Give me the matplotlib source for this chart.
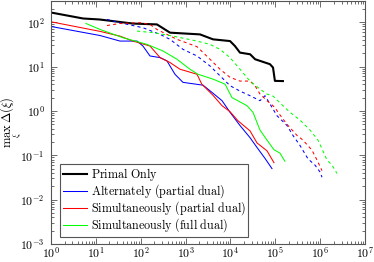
import numpy as np
import matplotlib
matplotlib.use("Agg")
import matplotlib.pyplot as plt
from matplotlib.ticker import FuncFormatter, LogLocator

plt.rcParams['mathtext.fontset'] = 'cm'
plt.rcParams['font.family'] = 'serif'
plt.rcParams['font.serif'] = ['DejaVu Serif']

# Primal only
black_x = [1, 5.2, 12, 67, 230, 450, 2100, 4100, 9800, 12600, 16300, 27500, 35500, 76000, 89000, 98000, 148000]
black_y = [165, 121, 115, 93, 89, 58, 53, 41, 37.5, 29, 20.6, 18.9, 14.6, 11.3, 9.5, 4.75, 4.7]

# Alternately (partial dual)
alt_x = [1, 12.4, 34.5, 83, 112, 161, 270, 385, 580, 875, 2450, 3900, 6500, 9800, 16300, 27300, 39100, 59000, 84400]
alt_y = [80, 50, 37.5, 37.5, 29, 17.3, 15.9, 13.4, 6.7, 4.4, 3.8, 2.6, 1.7, 0.93, 0.47, 0.25, 0.15, 0.085, 0.05]
alt_dual_x = [17.7, 34.5, 112, 270, 450, 875, 1800, 3500, 5850, 9800, 16300, 27300, 45600, 59000, 76200,
              109000, 182000, 248000, 356000, 536000, 768000, 993000, 1.1e6]
alt_dual_y = [115, 97, 75, 53, 41, 24.4, 17.3, 10.3, 6.2, 3.7, 2.8, 2.2, 1.7, 2.2, 1.43,
              0.78, 0.47, 0.28, 0.166, 0.083, 0.06, 0.042, 0.032]

# Simultaneously (partial dual)
sim_x = [1, 12.4, 34.5, 67, 161, 270, 450, 750, 1800, 2300, 4100, 6500, 9800, 14700, 27300, 39100, 65300, 93500]
sim_y = [102, 62, 48.5, 37.5, 29, 15.9, 12.3, 8.7, 6.7, 4.0, 2.24, 1.31, 0.96, 0.6, 0.355, 0.19, 0.126, 0.068]
sim_dual_x = [17.7, 34.5, 96, 161, 230, 385, 644, 1800, 3500, 5850, 9800, 16300, 27300, 35300, 45600, 65300,
              98000, 115000, 148000, 192000, 305000, 414000, 658000, 851000, 1.1e6]
sim_dual_y = [84, 93.5, 97, 89, 68.5, 53, 41, 28, 14.6, 8.7, 5.7, 4.7, 4.7, 3.7, 2.4, 1.7,
              1.2, 0.93, 0.66, 0.47, 0.28, 0.22, 0.13, 0.078, 0.045]

# Simultaneously (full dual)
full_x = [6, 12.4, 40, 138, 314, 644, 1250, 1890, 4100, 7600, 10800, 23400, 31800, 45600, 65300, 93500, 127000, 164000]
full_y = [93.5, 68.5, 44.7, 31.6, 22.4, 14.6, 8.7, 6.7, 5.2, 4.0, 2.0, 1.31, 0.93, 0.37, 0.22, 0.133, 0.112, 0.073]
full_dual_x = [83, 188, 525, 1800, 3500, 5850, 9800, 16300, 27300, 45600, 65300, 89000, 148000, 213000,
               356000, 594000, 895000, 1.1e6, 1.42e6, 1.84e6, 2.37e6]
full_dual_y = [63, 58, 48.5, 37.5, 31.6, 24.4, 15.9, 8.7, 4.7, 3.1, 2.4, 2.16, 1.31, 0.93,
               0.62, 0.37, 0.22, 0.14, 0.078, 0.06, 0.039]

labels = ['Primal Only', 'Alternately (partial dual)',
          'Simultaneously (partial dual)', 'Simultaneously (full dual)']


def tex(s):
    return r'$\mathrm{%s}$' % s.replace(' ', r'\ ')


fig = plt.figure(figsize=(3.74, 2.62), dpi=100)
ax = fig.add_axes([51 / 374, 1 - 244 / 262, 314 / 374, 243 / 262])

lw = 0.75
green = '#00ff00'
dash = (0, (3, 3))
ax.plot(black_x, black_y, color='black', lw=1.5, label=tex(labels[0]))
ax.plot(alt_x, alt_y, color='blue', lw=lw, label=tex(labels[1]))
ax.plot(sim_x, sim_y, color='red', lw=lw, label=tex(labels[2]))
ax.plot(full_x, full_y, color=green, lw=lw, label=tex(labels[3]))
ax.plot(alt_dual_x, alt_dual_y, color='blue', lw=lw, ls=dash)
ax.plot(sim_dual_x, sim_dual_y, color='red', lw=lw, ls=dash)
ax.plot(full_dual_x, full_dual_y, color=green, lw=lw, ls=dash)

ax.set_xscale('log')
ax.set_yscale('log')
ax.set_xlim(1, 1e7)
ax.set_ylim(1e-3, 3e2)

fmt = FuncFormatter(lambda v, p: r'$10^{%d}$' % int(round(np.log10(v))))
ax.xaxis.set_major_locator(LogLocator(base=10, numticks=20))
ax.yaxis.set_major_locator(LogLocator(base=10, numticks=20))
ax.xaxis.set_minor_locator(LogLocator(base=10, subs=np.arange(2, 10), numticks=20))
ax.yaxis.set_minor_locator(LogLocator(base=10, subs=np.arange(2, 10), numticks=20))
ax.xaxis.set_major_formatter(fmt)
ax.yaxis.set_major_formatter(fmt)
ax.xaxis.set_minor_formatter(FuncFormatter(lambda v, p: ''))
ax.yaxis.set_minor_formatter(FuncFormatter(lambda v, p: ''))
ax.tick_params(which='both', direction='in', top=True, right=True, colors='#555555',
               labelcolor='black', labelsize=8.5, width=0.6)
ax.tick_params(which='major', length=4)
ax.tick_params(axis='x', which='major', pad=1.5)
ax.tick_params(axis='y', which='major', pad=4.5)
ax.tick_params(which='minor', length=2)
for s in ax.spines.values():
    s.set_color('#555555')
    s.set_linewidth(0.8)

ax.set_ylabel(r'$\max_{\xi}\,\Delta(\xi)$', fontsize=9)
ax.yaxis.set_label_coords(-0.085, 0.5)

leg = ax.legend(loc='lower left', bbox_to_anchor=(0.03, 0.03), borderaxespad=0,
                prop={'size': 8.7}, fancybox=False, framealpha=1, edgecolor='#555555',
                handlelength=2.0, handletextpad=0.3, labelspacing=-0.06, borderpad=0.2)
leg.get_frame().set_linewidth(0.8)

fig.savefig('out.png', dpi=100)
